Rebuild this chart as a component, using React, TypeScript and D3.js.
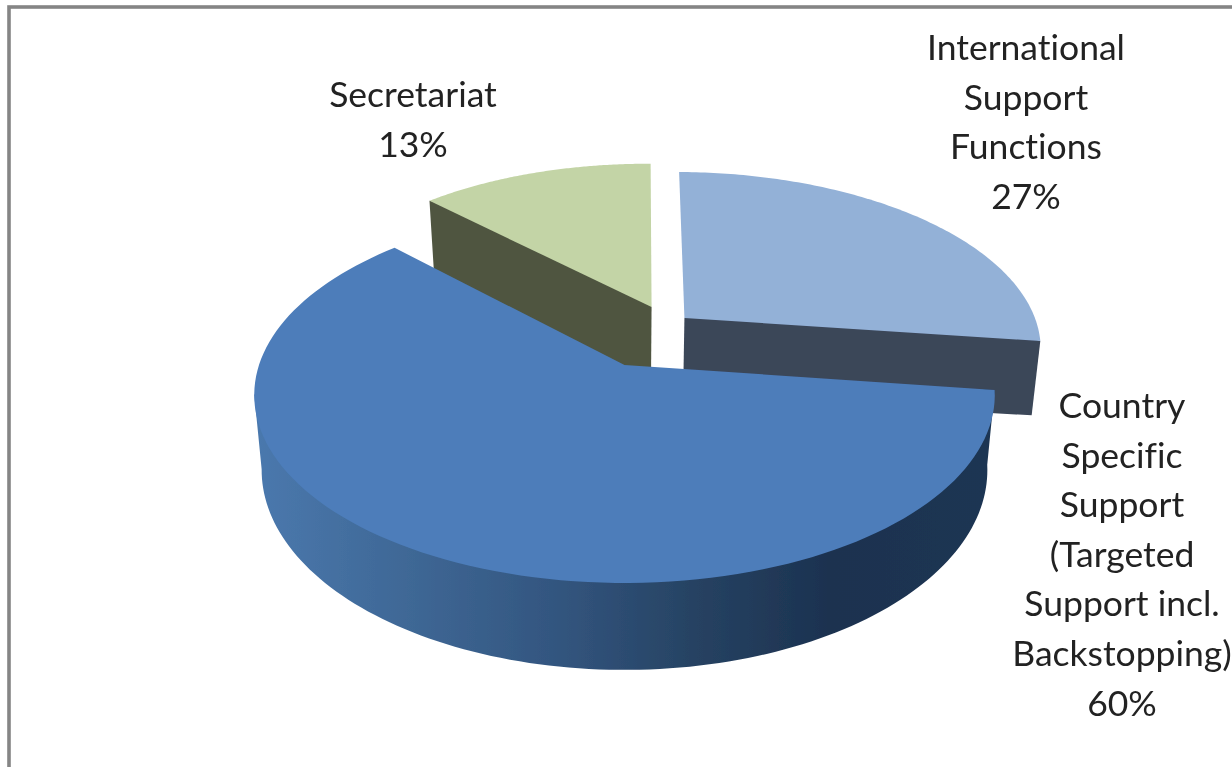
import React from "react";
import * as d3 from "d3";

const categories = ["International Support Functions", "Country Specific Support (Targeted Support incl. Backstopping)", "Secretariat"];
const shares = [27, 60.5, 12.5];
const topColors = ["#93b1d7", "#4d7dba", "#c3d4a6"];
const sideColors = ["#3b4659", "#2c4a70", "#4f5541"];
const labelLines = [
  ["International", "Support", "Functions", "27%"],
  ["Country", "Specific", "Support", "(Targeted", "Support incl.", "Backstopping)", "60%"],
  ["Secretariat", "13%"],
];
const labelAnchors = [
  [1026, 60],
  [1122, 418],
  [413, 107],
];

const W = 1232, H = 767;
const CX = 624.5, CY = 365, RX = 365.5, RY = 183.1, P = 0.16, HT = 73, TAPER = 0.02;
// ground-plane explosion offset of every slice
const offsets = [[0.171, 0.2677], [0, 0], [0.078, 0.3337]];

const project = (x: number, y: number, z = 0): [number, number] => {
  const w = 1 + P * y;
  return [CX + ((RX * x) / w) * (1 - TAPER * z), CY - (RY * y) / w + (HT * z) / w];
};

const pieGen = d3
  .pie<number>()
  .sort(null)
  .startAngle((0.5 * Math.PI) / 180)
  .endAngle((360.5 * Math.PI) / 180);
const arcs = pieGen(shares);
const line = d3.line<[number, number]>();

const rim = (a0: number, a1: number, off: number[], z = 0, r = 1): [number, number][] =>
  d3.range(0, 121).map((i) => {
    const a = a0 + ((a1 - a0) * i) / 120;
    return project(off[0] + r * Math.sin(a), off[1] + r * Math.cos(a), z);
  });

export default function App() {
  const paths = arcs.map((arc, i) => {
    const off = offsets[i];
    const apex = project(off[0], off[1]);
    const apexB = project(off[0], off[1], 1.1);
    const top = rim(arc.startAngle, arc.endAngle, off);
    const inner = project(
      off[0] + 0.5 * Math.sin((arc.startAngle + arc.endAngle) / 2),
      off[1] + 0.5 * Math.cos((arc.startAngle + arc.endAngle) / 2)
    );
    return { i, arc, off, apex, apexB, top, inner };
  });
  const [intl, country, secr] = paths;

  // outer wall of the large slice, from its right end round to the leftmost point of the ellipse;
  // its upper edge runs a little inside the top face so no seam shows between them
  const frontStart = country.arc.startAngle;
  const frontEnd = Math.PI * 1.45;
  const wallTop = rim(frontStart, frontEnd, country.off, 0, 0.97);
  const wallBottom = rim(frontStart, frontEnd, country.off, 1).reverse();
  const wallEdgeA = project(Math.sin(frontStart), Math.cos(frontStart));
  const wallEdgeB = project(Math.sin(frontEnd), Math.cos(frontEnd));

  // International: radial wall along the slice end and short outer wall
  const iEnd = intl.arc.endAngle;
  const iRim = project(intl.off[0] + Math.sin(iEnd), intl.off[1] + Math.cos(iEnd));
  const iRimB = project(intl.off[0] + Math.sin(iEnd), intl.off[1] + Math.cos(iEnd), 1.04);
  // Secretariat: radial wall along its left edge
  const sStart = secr.arc.startAngle;
  const sRim = project(secr.off[0] + Math.sin(sStart), secr.off[1] + Math.cos(sStart));
  const sRimB = project(secr.off[0] + Math.sin(sStart), secr.off[1] + Math.cos(sStart), 1.15);

  return (
    <svg
      width={W}
      height={H}
      viewBox={`0 0 ${W} ${H}`}
      style={{ position: "absolute", left: 0, top: 0, display: "block", background: "#fff" }}
    >
      <defs>
        <linearGradient id="wall" gradientUnits="userSpaceOnUse" x1={258} x2={990} y1={0} y2={0}>
          <stop offset="0" stopColor="#4a78ad" />
          <stop offset="0.2" stopColor="#3f6896" />
          <stop offset="0.4" stopColor="#335680" />
          <stop offset="0.6" stopColor="#264262" />
          <stop offset="0.78" stopColor="#1c3250" />
          <stop offset="1" stopColor="#1d3552" />
        </linearGradient>
        <filter id="soft"><feGaussianBlur stdDeviation="0.6" /></filter>
      </defs>
      <g filter="url(#soft)">
        <rect x={9} y={7} width={W + 20} height={H + 20} fill="none" stroke="#858585" strokeWidth={3.6} />

        {/* Secretariat */}
        <path d={(line([secr.inner, sRim, sRimB, secr.apexB, secr.apex]) ?? "") + "Z"} fill={sideColors[2]} />
        <path d={(line([secr.apex, ...secr.top]) ?? "") + "Z"} fill={topColors[2]} />

        {/* International */}
        <path d={(line([intl.inner, intl.apex, intl.apexB, iRimB, iRim]) ?? "") + "Z"} fill={sideColors[0]} />
        <path d={(line([intl.apex, ...intl.top]) ?? "") + "Z"} fill={topColors[0]} />

        {/* Country specific */}
        <path d={(line([wallEdgeA, ...wallTop, wallEdgeB, ...wallBottom]) ?? "") + "Z"} fill="url(#wall)" />
        <path d={(line([country.apex, ...country.top]) ?? "") + "Z"} fill={topColors[1]} />

        {labelLines.map((lines, i) => (
          <text
            key={categories[i]}
            x={labelAnchors[i][0]}
            y={labelAnchors[i][1]}
            textAnchor="middle"
            fontFamily="Lato, 'Open Sans', sans-serif"
            fontSize={35.5}
            fill="#222"
            style={{ fontVariantLigatures: "none" }}
          >
            {lines.map((t, j) => (
              <tspan key={j} x={labelAnchors[i][0]} dy={j === 0 ? 0 : 49.6}>
                {t}
              </tspan>
            ))}
          </text>
        ))}
      </g>
    </svg>
  );
}
